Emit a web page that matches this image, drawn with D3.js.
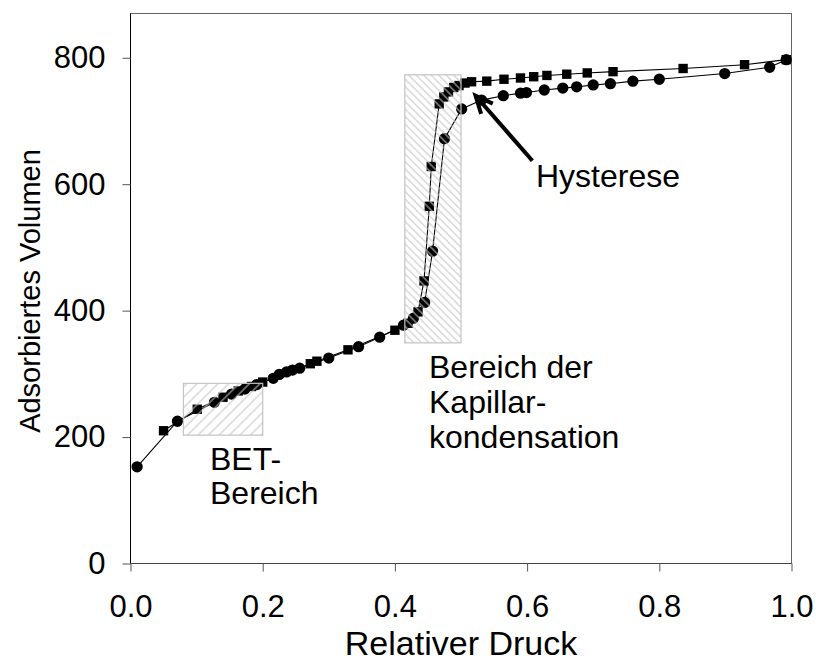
<!DOCTYPE html>
<html>
<head>
<meta charset="utf-8">
<script src="https://cdn.jsdelivr.net/npm/d3@7"></script>
<style>
  html, body { margin: 0; padding: 0; background: #fff; }
  svg text { font-family: "Liberation Sans", Arial, sans-serif; fill: #000; }
</style>
</head>
<body>
<svg id="chart" width="816" height="665"></svg>
<script>
// Adsorption branch (circles): relative pressure and adsorbed volume
const adsP = [0.010, 0.071, 0.127, 0.153, 0.173, 0.191, 0.216, 0.225, 0.236, 0.245, 0.256,
              0.300, 0.345, 0.377, 0.413, 0.428, 0.445, 0.457, 0.475, 0.501, 0.531, 0.564,
              0.590, 0.599, 0.626, 0.654, 0.675, 0.700, 0.726, 0.760, 0.800, 0.899, 0.967, 0.992];
const adsV = [153, 225, 255, 268, 276, 283, 293, 299, 303, 306, 309,
              325, 343, 358, 377, 388, 413, 494, 672, 719, 733, 740,
              744, 745, 749, 752, 754, 757, 759, 763, 766, 775, 785, 797];

// Desorption branch (squares)
const desP = [0.050, 0.101, 0.140, 0.163, 0.183, 0.200, 0.272, 0.282, 0.329, 0.400, 0.420,
              0.435, 0.444, 0.452, 0.455, 0.467, 0.474, 0.481, 0.489, 0.497, 0.506, 0.516,
              0.539, 0.565, 0.590, 0.610, 0.630, 0.660, 0.691, 0.730, 0.836, 0.929, 0.992];
const desV = [210, 244, 263, 273, 280, 287, 316, 320, 338, 369, 380,
              398, 447, 565, 628, 727, 738, 746, 753, 756, 760, 762,
              763, 766, 768, 770, 772, 774, 776, 778, 783, 789, 797];

// Axis ticks and titles
const xTicks = [0.0, 0.2, 0.4, 0.6, 0.8, 1.0];
const yTicks = [0, 200, 400, 600, 800];
const xTitle = "Relativer Druck";
const yTitle = "Adsorbiertes Volumen";

// Shaded regions (in data units) and their labels
const betRegion = { p0: 0.080, p1: 0.200, v0: 203, v1: 285 };
const kapRegion = { p0: 0.415, p1: 0.500, v0: 349, v1: 773 };
const betLabel = ["BET-", "Bereich"];
const kapLabel = ["Bereich der", "Kapillar-", "kondensation"];
const hystLabel = "Hysterese";
const hystArrow = { tipP: 0.522, tipV: 740, tailP: 0.608, tailV: 637 };

const svg = d3.select("#chart");
const x = d3.scaleLinear().domain([0, 1]).range([130.5, 791.5]);
const y = d3.scaleLinear().domain([0, 870]).range([563.5, 13.5]);
const FS = 31;
const LABEL_FS = 32;

// Hatch patterns
const defs = svg.append("defs");
function hatch(id, w, angle) {
  const p = defs.append("pattern")
    .attr("id", id).attr("patternUnits", "userSpaceOnUse")
    .attr("width", w).attr("height", w)
    .attr("patternTransform", `rotate(${angle})`);
  p.append("line").attr("x1", w / 2).attr("y1", -1).attr("x2", w / 2).attr("y2", w + 1)
    .attr("stroke", "#c4c4c4").attr("stroke-width", 1);
}
hatch("hatchBET", 7.4, 45);
hatch("hatchKap", 5.3, -45);

// Frame
svg.append("rect")
  .attr("x", x(0)).attr("y", y(870))
  .attr("width", x(1) - x(0)).attr("height", y(0) - y(870))
  .attr("fill", "none").attr("stroke", "#666").attr("stroke-width", 1);
svg.append("line").attr("x1", x(0)).attr("x2", x(0)).attr("y1", y(870)).attr("y2", y(0))
  .attr("stroke", "#000");
svg.append("line").attr("x1", x(0)).attr("x2", x(1)).attr("y1", y(0)).attr("y2", y(0))
  .attr("stroke", "#444");

// Axes
const gx = svg.append("g").attr("transform", `translate(0,${y(0)})`)
  .call(d3.axisBottom(x).tickValues(xTicks).tickFormat(d3.format(".1f"))
    .tickSize(8).tickPadding(23));
const gy = svg.append("g").attr("transform", `translate(${x(0)},0)`)
  .call(d3.axisLeft(y).tickValues(yTicks).tickSize(8).tickPadding(17));
[gx, gy].forEach(g => {
  g.select(".domain").remove();
  g.selectAll(".tick line").attr("stroke", "#555");
  g.selectAll(".tick text").attr("font-size", FS)
    .attr("font-family", "'Liberation Sans', Arial, sans-serif").attr("fill", "#000");
});

// Axis titles
svg.append("text").attr("x", (x(0) + x(1)) / 2).attr("y", 655)
  .attr("text-anchor", "middle").attr("font-size", 34).text(xTitle);
svg.append("text")
  .attr("transform", `translate(40,291) rotate(-90)`)
  .attr("text-anchor", "middle").attr("font-size", 29).text(yTitle);

// Isotherm lines and markers
function series(P, V, shape) {
  const pts = P.map((p, i) => [p, V[i]]);
  svg.append("path").datum(pts)
    .attr("d", d3.line().x(d => x(d[0])).y(d => y(d[1])))
    .attr("fill", "none").attr("stroke", "#000").attr("stroke-width", 1.1);
  const sym = d3.symbol().type(shape === "circle" ? d3.symbolCircle : d3.symbolSquare)
    .size(shape === "circle" ? 100 : 88);
  svg.append("g").selectAll("path").data(pts).join("path")
    .attr("transform", d => `translate(${x(d[0])},${y(d[1])})`)
    .attr("d", sym).attr("fill", "#000");
}
series(desP, desV, "square");
series(adsP, adsV, "circle");

// Hatched regions on top of the curves
function region(r, pat) {
  const g = svg.append("g");
  const rx = x(r.p0), ry = y(r.v1), rw = x(r.p1) - x(r.p0), rh = y(r.v0) - y(r.v1);
  g.append("rect").attr("x", rx).attr("y", ry).attr("width", rw).attr("height", rh)
    .attr("fill", `url(#${pat})`);
  g.append("rect").attr("x", rx).attr("y", ry).attr("width", rw).attr("height", rh)
    .attr("fill", "none").attr("stroke", "#c4c4c4").attr("stroke-width", 1.2);
}
region(betRegion, "hatchBET");
region(kapRegion, "hatchKap");

// Labels
function multiline(lines, x0, y0, lh) {
  const t = svg.append("text").attr("font-size", LABEL_FS);
  lines.forEach((s, i) => t.append("tspan").attr("x", x0).attr("y", y0 + i * lh).text(s));
}
multiline(betLabel, 210, 470, 34);
multiline(kapLabel, 429, 378, 35);
svg.append("text").attr("x", 536).attr("y", 187).attr("font-size", LABEL_FS).text(hystLabel);

// Hysteresis arrow
const tx = x(hystArrow.tipP), ty = y(hystArrow.tipV);
const sx = x(hystArrow.tailP), sy = y(hystArrow.tailV);
const ang = Math.atan2(sy - ty, sx - tx);
svg.append("line").attr("x1", sx).attr("y1", sy).attr("x2", tx + 3 * Math.cos(ang)).attr("y2", ty + 3 * Math.sin(ang))
  .attr("stroke", "#000").attr("stroke-width", 4);
const hl = 19, ha = 0.42;
svg.append("path")
  .attr("d", `M${tx + hl * Math.cos(ang - ha)},${ty + hl * Math.sin(ang - ha)} L${tx},${ty} L${tx + hl * Math.cos(ang + ha)},${ty + hl * Math.sin(ang + ha)}`)
  .attr("fill", "none").attr("stroke", "#000").attr("stroke-width", 4)
  .attr("stroke-linejoin", "miter");
</script>
</body>
</html>
